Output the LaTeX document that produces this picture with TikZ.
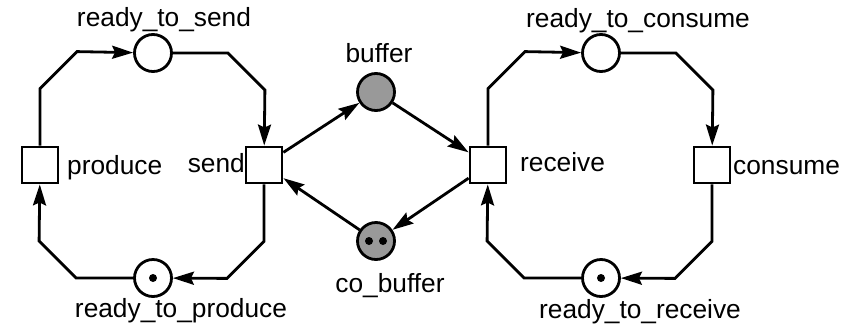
\documentclass[tikz,border=0pt]{standalone}
\usepackage{fontspec}
\setmainfont{Liberation Sans}
\usetikzlibrary{arrows.meta}
\tikzset{
  place/.style = {circle, draw=black, line width=2.8pt, minimum size=37pt,
    inner sep=0pt, fill=white},
  place_sh/.style = {place, fill=gray!80},% place shared by both loops
  trans/.style = {rectangle, draw=black, line width=2.8pt, minimum size=36pt,
    inner sep=0pt, fill=white},
  tok/.style = {circle, fill=black, minimum size=8pt, inner sep=0pt},% token
  lbl/.style = {font=\fontsize{26.3}{30}\selectfont, inner sep=0pt,
    anchor=base},
  arc/.style = {line width=2.8pt, -{Stealth[length=21pt,width=13pt,inset=3pt]}}
}

\begin{document}
\begin{tikzpicture}[x=1pt,y=-1pt]
\useasboundingbox (0,0) rectangle (861,327);
% transitions
\node [trans] (produce) at (40,165) {};
\node [trans] (send) at (264,165) {};
\node [trans] (receive) at (488,165) {};
\node [trans] (consume) at (712,165) {};
% places
\node [place] (rts) at (153,53) {};
\node [place] (rtp) at (153,278) {};
\node [place] (rtc) at (601,53) {};
\node [place] (rtr) at (601,278) {};
\node [place_sh] (buffer) at (376,92) {};
\node [place_sh] (cobuffer) at (376,241) {};
% initial marking
\node [tok] (t_rtp) at (rtp) {};
\node [tok] (t_rtr) at (rtr) {};
\node [tok] (t_cb1) at ([xshift=-7pt]cobuffer.center) {};
\node [tok] (t_cb2) at ([xshift=7pt]cobuffer.center) {};
% names
\node [lbl] (l_rts) at (164,26) {ready\_to\_send};
\node [lbl] (l_rtp) at (181,317) {ready\_to\_produce};
\node [lbl] (l_rtc) at (638,27) {ready\_to\_consume};
\node [lbl] (l_rtr) at (640,318) {ready\_to\_receive};
\node [lbl] (l_buffer) at (379,62) {buffer};
\node [lbl] (l_cobuffer) at (390,292) {co\_buffer};
\node [lbl, anchor=base west] (l_produce) at (67,174) {produce};
\node [lbl, anchor=base east] (l_send) at (245,172) {send};
\node [lbl, anchor=base west] (l_receive) at (520,171) {receive};
\node [lbl, anchor=base west] (l_consume) at (733,174) {consume};
% producer loop
\draw [arc] (produce.north) -- ++(0,-57) -- ++(37,-37) -- (rts);
\draw [arc] (rts.east) -- ++(55,0) -- ++(37,37) -- (send);
\draw [arc] (send.south) -- ++(0,57) -- ++(-37,37) -- (rtp);
\draw [arc] (rtp.west) -- ++(-57,0) -- ++(-37,-37) -- (produce);
% consumer loop
\draw [arc] (receive.north) -- ++(0,-57) -- ++(37,-37) -- (rtc);
\draw [arc] (rtc.east) -- ++(55,0) -- ++(37,37) -- (consume);
\draw [arc] (consume.south) -- ++(0,57) -- ++(-37,37) -- (rtr);
\draw [arc] (rtr.west) -- ++(-57,0) -- ++(-37,-37) -- (receive);
% buffer
\draw [arc] (send) -- (buffer);
\draw [arc] (buffer) -- (receive);
\draw [arc] (receive) -- (cobuffer);
\draw [arc] (cobuffer) -- (send);
\end{tikzpicture}
\end{document}
